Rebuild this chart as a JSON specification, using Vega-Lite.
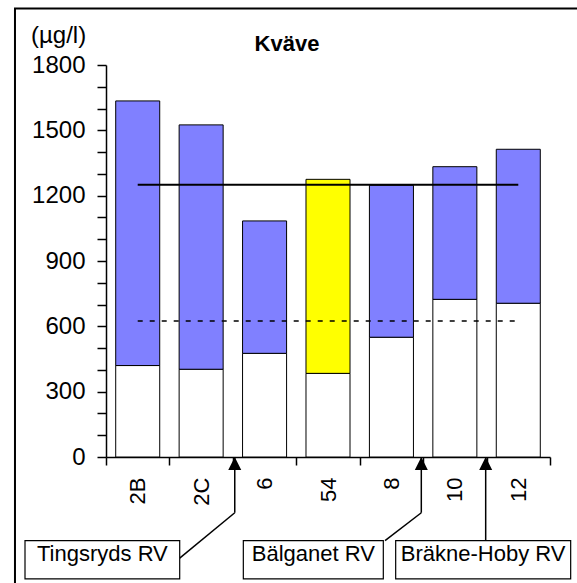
{
  "$schema": "https://vega.github.io/schema/vega-lite/v6.json",
  "width": 444,
  "height": 392,
  "autosize": "none",
  "padding": {"left": 106, "top": 65, "right": 27, "bottom": 126},
  "background": "white",
  "config": {
    "view": {"stroke": null},
    "font": "Liberation Sans",
    "axis": {"grid": false}
  },
  "datasets": {
    "stations": [
      {"station": "2B", "low": 420, "high": 1635},
      {"station": "2C", "low": 403, "high": 1525},
      {"station": "6", "low": 476, "high": 1084},
      {"station": "54", "low": 384, "high": 1275},
      {"station": "8", "low": 550, "high": 1248},
      {"station": "10", "low": 724, "high": 1333},
      {"station": "12", "low": 706, "high": 1413}
    ],
    "limits": [
      {"typ": "solid", "grans": 1250, "fran": "2B", "till": "12"},
      {"typ": "dashed", "grans": 625, "fran": "2B", "till": "12"}
    ],
    "frame": [
      {"x1": -1.435, "x2": 8, "y1": 2059, "y2": -800}
    ],
    "boxes": [
      {"text": "Tingsryds RV", "x1": -1.277, "x2": 1.162, "mid": -0.057, "y1": -384, "y2": -560, "ytext": -477},
      {"text": "Bälganet RV", "x1": 2.165, "x2": 4.372, "mid": 3.268, "y1": -384, "y2": -560, "ytext": -477},
      {"text": "Bräkne-Hoby RV", "x1": 4.567, "x2": 7.326, "mid": 5.946, "y1": -384, "y2": -560, "ytext": -477}
    ],
    "leaders": [
      {"text": "Tingsryds RV", "x1": 2.03, "y1": 0, "x2": 2.03, "y2": -256},
      {"text": "Tingsryds RV", "x1": 2.03, "y1": -256, "x2": 1.162, "y2": -464},
      {"text": "Bälganet RV", "x1": 4.971, "y1": 0, "x2": 4.971, "y2": -256},
      {"text": "Bälganet RV", "x1": 4.971, "y1": -256, "x2": 4.399, "y2": -384},
      {"text": "Bräkne-Hoby RV", "x1": 5.986, "y1": 0, "x2": 5.986, "y2": -384}
    ],
    "arrows": [
      {"text": "Tingsryds RV", "x": 2.03, "y": 0},
      {"text": "Bälganet RV", "x": 4.971, "y": 0},
      {"text": "Bräkne-Hoby RV", "x": 5.986, "y": 0}
    ],
    "labels": [
      {"text": "Kväve", "kind": "title", "x": 2.854, "y": 1864},
      {"text": "(µg/l)", "kind": "unit", "x": -1.182, "y": 1902}
    ]
  },
  "resolve": {
    "scale": {"x": "independent"},
    "axis": {"x": "independent", "y": "independent"}
  },
  "layer": [
    {
      "resolve": {"axis": {"x": "independent", "y": "independent"}},
      "layer": [
        {
          "data": {"name": "stations"},
          "mark": {"type": "bar", "fill": "white", "stroke": "black", "strokeWidth": 1, "width": {"band": 0.694}},
          "encoding": {
            "x": {
              "field": "station", "type": "nominal", "sort": null,
              "scale": {"domain": ["2B", "2C", "6", "54", "8", "10", "12"], "paddingInner": 0, "paddingOuter": 0},
              "axis": {
                "title": null, "labelAngle": -90, "tickBand": "extent",
                "labelFontSize": 22, "labelColor": "black", "labelFont": "Liberation Sans",
                "tickColor": "black", "domainColor": "black", "tickSize": 8,
                "tickWidth": 1.5, "domainWidth": 1.5, "labelPadding": 12
              }
            },
            "y": {
              "field": "low", "type": "quantitative",
              "scale": {"domain": [0, 1800], "nice": false},
              "axis": {
                "title": null,
                "values": [0, 100, 200, 300, 400, 500, 600, 700, 800, 900, 1000, 1100, 1200, 1300, 1400, 1500, 1600, 1700, 1800],
                "labelExpr": "datum.value % 300 === 0 ? datum.label : ''",
                "labelOverlap": false,
                "format": "d", "labelFontSize": 24, "labelColor": "black", "labelFont": "Liberation Sans",
                "tickColor": "black", "domainColor": "black", "tickSize": 9,
                "tickWidth": 1.5, "domainWidth": 1.5, "labelPadding": 12
              }
            }
          }
        },
        {
          "data": {"name": "stations"},
          "mark": {"type": "bar", "stroke": "black", "strokeWidth": 1, "width": {"band": 0.694}},
          "encoding": {
            "x": {"field": "station", "type": "nominal", "sort": null, "axis": null},
            "y": {"field": "high", "type": "quantitative", "scale": {"domain": [0, 1800], "nice": false}, "axis": null},
            "y2": {"field": "low"},
            "fill": {
              "condition": {"test": "datum.station === '54'", "value": "#FFFF00"},
              "value": "#8080FF"
            }
          }
        },
        {
          "data": {"name": "limits"},
          "transform": [{"filter": "datum.typ === 'solid'"}],
          "mark": {"type": "rule", "stroke": "black", "strokeWidth": 2},
          "encoding": {
            "x": {"field": "fran", "type": "nominal", "axis": null},
            "x2": {"field": "till"},
            "y": {"field": "grans", "type": "quantitative", "scale": {"domain": [0, 1800], "nice": false}, "axis": null}
          }
        },
        {
          "data": {"name": "limits"},
          "transform": [{"filter": "datum.typ === 'dashed'"}],
          "mark": {"type": "rule", "stroke": "black", "strokeWidth": 1.5, "strokeDash": [5, 7]},
          "encoding": {
            "x": {"field": "fran", "type": "nominal", "axis": null},
            "x2": {"field": "till"},
            "y": {"field": "grans", "type": "quantitative", "scale": {"domain": [0, 1800], "nice": false}, "axis": null}
          }
        }
      ]
    },
    {
      "layer": [
        {
          "data": {"name": "frame"},
          "mark": {"type": "rect", "filled": false, "stroke": "black", "strokeWidth": 2},
          "encoding": {
            "x": {"field": "x1", "type": "quantitative", "scale": {"domain": [0, 7], "nice": false, "zero": false}, "axis": null},
            "x2": {"field": "x2"},
            "y": {"field": "y1", "type": "quantitative", "scale": {"domain": [0, 1800], "nice": false}, "axis": null},
            "y2": {"field": "y2"}
          }
        },
        {
          "data": {"name": "leaders"},
          "mark": {"type": "rule", "stroke": "black", "strokeWidth": 1.5},
          "encoding": {
            "x": {"field": "x1", "type": "quantitative", "scale": {"domain": [0, 7], "nice": false, "zero": false}, "axis": null},
            "x2": {"field": "x2"},
            "y": {"field": "y1", "type": "quantitative", "scale": {"domain": [0, 1800], "nice": false}, "axis": null},
            "y2": {"field": "y2"}
          }
        },
        {
          "data": {"name": "arrows"},
          "mark": {"type": "point", "shape": "M0,0L1,2L-1,2Z", "size": 169, "filled": true, "fill": "black", "stroke": null, "opacity": 1},
          "encoding": {
            "x": {"field": "x", "type": "quantitative", "scale": {"domain": [0, 7], "nice": false, "zero": false}, "axis": null},
            "y": {"field": "y", "type": "quantitative", "scale": {"domain": [0, 1800], "nice": false}, "axis": null}
          }
        },
        {
          "data": {"name": "boxes"},
          "mark": {"type": "rect", "fill": "white", "stroke": "black", "strokeWidth": 1.2},
          "encoding": {
            "x": {"field": "x1", "type": "quantitative", "scale": {"domain": [0, 7], "nice": false, "zero": false}, "axis": null},
            "x2": {"field": "x2"},
            "y": {"field": "y1", "type": "quantitative", "scale": {"domain": [0, 1800], "nice": false}, "axis": null},
            "y2": {"field": "y2"}
          }
        },
        {
          "data": {"name": "boxes"},
          "mark": {"type": "text", "font": "Liberation Sans", "fontSize": 22, "align": "center", "baseline": "alphabetic", "color": "black"},
          "encoding": {
            "x": {"field": "mid", "type": "quantitative", "scale": {"domain": [0, 7], "nice": false, "zero": false}, "axis": null},
            "y": {"field": "ytext", "type": "quantitative", "scale": {"domain": [0, 1800], "nice": false}, "axis": null},
            "text": {"field": "text"}
          }
        },
        {
          "data": {"name": "labels"},
          "transform": [{"filter": "datum.kind === 'title'"}],
          "mark": {"type": "text", "font": "Liberation Sans", "fontSize": 22, "fontWeight": "bold", "align": "center", "baseline": "alphabetic", "color": "black"},
          "encoding": {
            "x": {"field": "x", "type": "quantitative", "scale": {"domain": [0, 7], "nice": false, "zero": false}, "axis": null},
            "y": {"field": "y", "type": "quantitative", "scale": {"domain": [0, 1800], "nice": false}, "axis": null},
            "text": {"field": "text"}
          }
        },
        {
          "data": {"name": "labels"},
          "transform": [{"filter": "datum.kind === 'unit'"}],
          "mark": {"type": "text", "font": "Liberation Sans", "fontSize": 24, "align": "left", "baseline": "alphabetic", "color": "black"},
          "encoding": {
            "x": {"field": "x", "type": "quantitative", "scale": {"domain": [0, 7], "nice": false, "zero": false}, "axis": null},
            "y": {"field": "y", "type": "quantitative", "scale": {"domain": [0, 1800], "nice": false}, "axis": null},
            "text": {"field": "text"}
          }
        }
      ]
    }
  ]
}
